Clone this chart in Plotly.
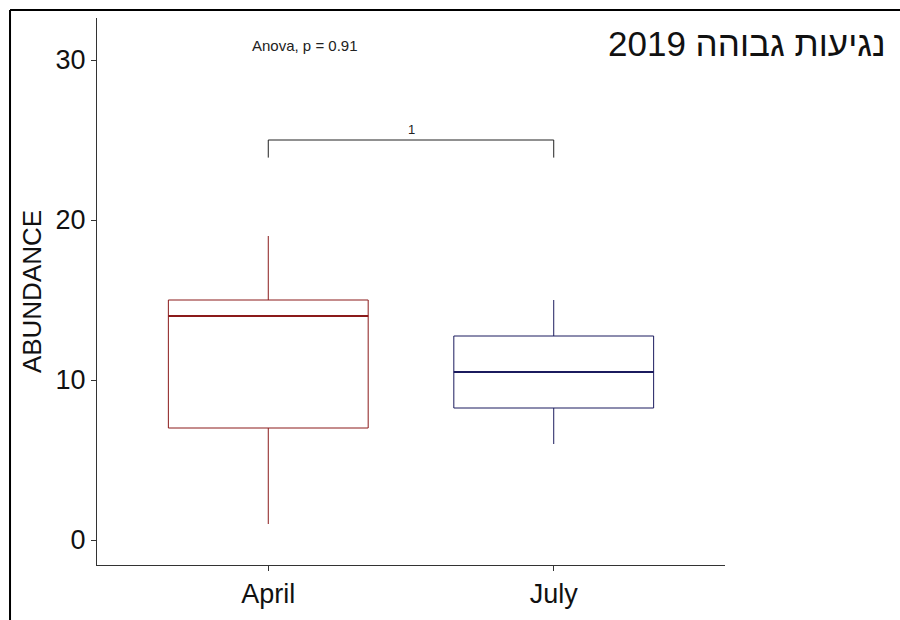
import plotly.graph_objects as go

# Summary statistics of abundance per sampling month
months = ["April", "July"]
lower_whisker = [1, 6]
q1_values = [7, 8.25]
medians = [14, 10.5]
q3_values = [15, 12.75]
upper_whisker = [19, 15]
box_colors = ["#8B1A1A", "#1B1B5E"]

y_ticks = [0, 10, 20, 30]

# Pairwise comparison bracket and labels
bracket_low, bracket_high = 23.9, 25
pair_label = "1"
anova_label = "Anova, p = 0.91"
anova_y = 30.9
title_text = "נגיעות גבוהה 2019"

BOX_W = 0.7
FONT = "Liberation Sans, Arial, sans-serif"

fig = go.Figure()

for i, m in enumerate(months):
    fig.add_trace(go.Box(
        x=[i], q1=[q1_values[i]], median=[medians[i]], q3=[q3_values[i]],
        lowerfence=[lower_whisker[i]], upperfence=[upper_whisker[i]],
        width=BOX_W, whiskerwidth=0,
        line=dict(color=box_colors[i], width=1),
        fillcolor="rgba(255,255,255,0)",
        boxpoints=False, showlegend=False, name=m, hoverinfo="skip",
    ))
    # heavier median line
    fig.add_shape(type="line", xref="x", yref="y",
                  x0=i - BOX_W / 2, x1=i + BOX_W / 2,
                  y0=medians[i], y1=medians[i],
                  line=dict(color=box_colors[i], width=2))

# significance bracket
fig.add_trace(go.Scatter(
    x=[0, 0, 1, 1],
    y=[bracket_low, bracket_high, bracket_high, bracket_low],
    mode="lines", line=dict(color="#222222", width=1),
    showlegend=False, hoverinfo="skip",
))
fig.add_annotation(x=0.5, y=bracket_high, xref="x", yref="y", text=pair_label,
                   showarrow=False, yanchor="bottom", yshift=1,
                   font=dict(family=FONT, size=13, color="#222222"))
fig.add_annotation(x=0.13, y=anova_y, xref="x", yref="y", text=anova_label,
                   showarrow=False,
                   font=dict(family=FONT, size=15, color="#222222"))

# title at the upper right
fig.add_annotation(x=1.2596, y=0.9525, xref="paper", yref="paper",
                   text=title_text, showarrow=False,
                   xanchor="right", yanchor="middle",
                   font=dict(family=FONT, size=35, color="#111111"))

# frame lines at top and left
fig.add_shape(type="line", xref="paper", yref="paper",
              x0=-0.1385, x1=1.3, y0=1.0146, y1=1.0146,
              line=dict(color="black", width=2))
fig.add_shape(type="line", xref="paper", yref="paper",
              x0=-0.1385, x1=-0.1385, y0=1.0146, y1=-0.12,
              line=dict(color="black", width=2))

fig.update_layout(
    width=900, height=620,
    margin=dict(l=97, r=175, t=18, b=55),
    paper_bgcolor="white", plot_bgcolor="white",
    font=dict(family=FONT, color="#111111"),
    xaxis=dict(
        range=[-0.6, 1.6], tickmode="array", tickvals=[0, 1], ticktext=months,
        showline=True, linecolor="#333333", linewidth=1,
        ticks="outside", ticklen=5, tickcolor="#333333",
        showgrid=False, zeroline=False,
        tickfont=dict(family=FONT, size=27, color="#111111"),
    ),
    yaxis=dict(
        range=[-1.5625, 32.625], tickmode="array", tickvals=y_ticks,
        showline=True, linecolor="#333333", linewidth=1,
        ticks="outside", ticklen=5, tickcolor="#333333",
        showgrid=False, zeroline=False,
        tickfont=dict(family=FONT, size=27, color="#111111"),
        title=dict(text="ABUNDANCE", standoff=6,
                   font=dict(family=FONT, size=26, color="#111111")),
    ),
)

fig.write_html("out.html")
